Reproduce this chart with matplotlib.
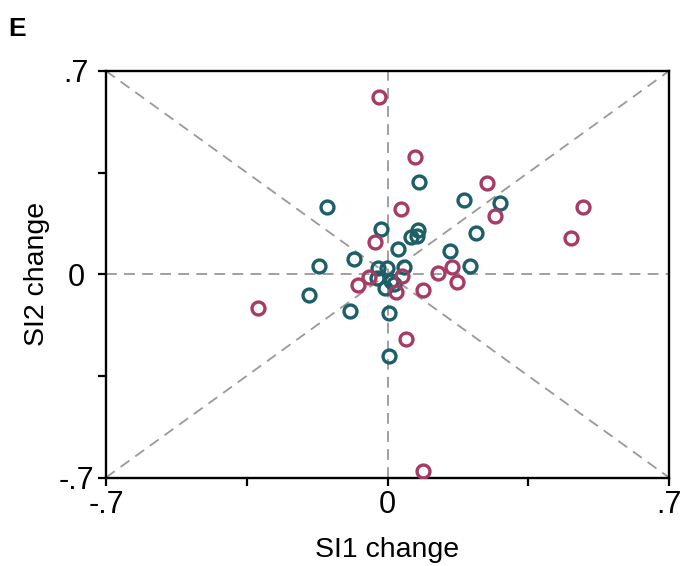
import matplotlib
matplotlib.use("Agg")
import matplotlib.pyplot as plt

plt.rcParams['font.family'] = ['Liberation Sans', 'DejaVu Sans']

# Data: change in SI1 (x) and SI2 (y)
pink_x = [-0.020, 0.068, 0.248, 0.487, 0.456, 0.267, 0.033, -0.031, 0.160, 0.126,
          0.172, 0.089, 0.035, 0.022, -0.045, -0.073, -0.321, 0.045, 0.088]
pink_y = [0.611, 0.403, 0.315, 0.231, 0.126, 0.201, 0.225, 0.112, 0.026, 0.003,
          -0.028, -0.054, -0.006, -0.060, -0.008, -0.037, -0.115, -0.224, -0.678]

teal_x = [0.079, -0.150, -0.015, 0.077, 0.073, 0.058, 0.025, -0.083, -0.170, -0.195,
          0.189, 0.280, 0.219, 0.155, 0.205, 0.042, -0.024, -0.002, -0.027, 0.009,
          0.015, -0.006, -0.093, 0.004, 0.004]
teal_y = [0.319, 0.231, 0.155, 0.152, 0.132, 0.127, 0.087, 0.053, 0.028, -0.071,
          0.256, 0.244, 0.141, 0.081, 0.029, 0.024, 0.020, 0.020, -0.013, -0.023,
          -0.034, -0.048, -0.126, -0.133, -0.282]

lim = 0.7
major_ticks = [-0.7, 0, 0.7]
major_labels = ['-.7', '0', '.7']
minor_ticks = [-0.35, 0.35]

teal = '#1d5f66'
pink = '#a63c65'

fig = plt.figure(figsize=(6.84, 5.66), dpi=100)
ax = fig.add_axes([106/684, 1-477.5/566, (669-106)/684, (477.5-71)/566])

dash = dict(color='#999999', lw=1.3, ls=(0, (6, 4)), zorder=1)
ax.plot([-lim, lim], [-lim, lim], **dash)
ax.plot([-lim, lim], [lim, -lim], **dash)
ax.plot([-lim, lim], [0, 0], **dash)
ax.plot([0, 0], [-lim, lim], **dash)

mk = dict(marker='o', ls='none', ms=9.3, mew=2.4, mfc='none', zorder=3)
ax.plot(teal_x, teal_y, mec=teal, **mk)
ax.plot(pink_x, pink_y, mec=pink, **mk)

ax.set_xlim(-lim, lim)
ax.set_ylim(-lim, lim)
ax.set_xticks(major_ticks)
ax.set_xticklabels(major_labels)
ax.set_yticks(major_ticks)
ax.set_yticklabels(major_labels, ha='center')
ax.set_xticks(minor_ticks, minor=True)
ax.set_yticks(minor_ticks, minor=True)
ax.tick_params(which='both', direction='out', length=6, width=1.6, labelsize=22, pad=3)
ax.tick_params(axis='y', pad=15.5)
for s in ax.spines.values():
    s.set_linewidth(1.7)

ax.set_xlabel('SI1 change', fontsize=20.5, labelpad=12)
ax.set_ylabel('SI2 change', fontsize=20.5, labelpad=6)

fig.text(8/684, 1-36/566, 'E', fontsize=19, fontweight='bold')

fig.savefig('out.png', dpi=100)
